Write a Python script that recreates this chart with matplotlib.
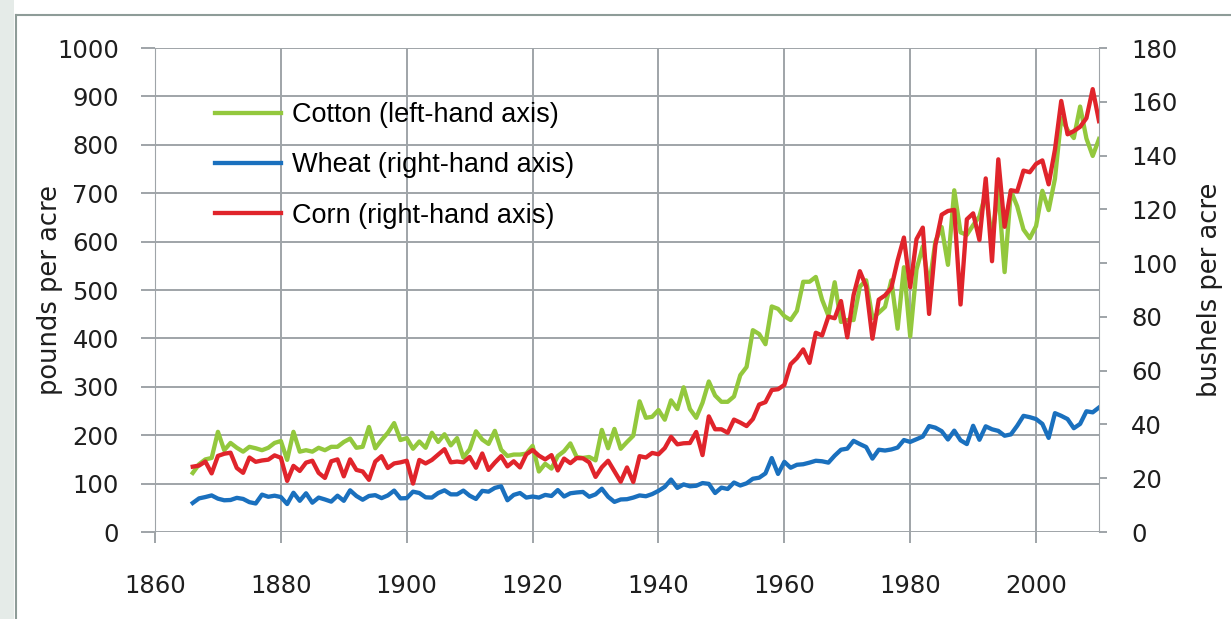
import matplotlib.pyplot as plt
import matplotlib.patches as mpatches
import numpy as np

# yields, one value per year 1866-2010
years = np.arange(1866, 2011)

cotton_lb = [
    122, 140, 150, 153, 207, 169, 184, 174, 166, 176,
    173, 169, 174, 184, 188, 149, 207, 166, 169, 166,
    174, 169, 176, 176, 186, 193, 174, 176, 217, 173,
    190, 205, 225, 190, 194, 172, 187, 174, 205, 186,
    202, 179, 194, 154, 171, 208, 191, 182, 209, 170,
    157, 160, 160, 162, 178, 125, 141, 131, 157, 167,
    183, 155, 153, 155, 148, 211, 173, 213, 172, 186,
    199, 270, 236, 238, 252, 232, 272, 254, 299, 254,
    236, 267, 311, 282, 269, 269, 280, 324, 341, 417,
    409, 388, 466, 461, 446, 438, 457, 517, 517, 527,
    480, 447, 516, 434, 438, 438, 507, 520, 442, 453,
    465, 520, 420, 547, 404, 542, 590, 508, 600, 630,
    552, 706, 619, 614, 634, 652, 700, 606, 708, 537,
    705, 673, 625, 607, 632, 705, 665, 730, 855, 831,
    814, 879, 813, 777, 812,
]

wheat_bu = [
    10.8, 12.5, 13.0, 13.6, 12.4, 11.8, 11.9, 12.7, 12.3, 11.1,
    10.6, 13.9, 13.1, 13.5, 13.0, 10.4, 14.6, 11.6, 14.4, 10.9,
    12.8, 12.1, 11.3, 13.5, 11.6, 15.5, 13.4, 12.0, 13.4, 13.7,
    12.6, 13.6, 15.4, 12.5, 12.6, 15.0, 14.5, 12.9, 12.8, 14.5,
    15.5, 14.0, 14.0, 15.4, 13.5, 12.3, 15.3, 15.0, 16.4, 17.0,
    11.8, 13.8, 14.5, 12.8, 13.2, 12.8, 13.8, 13.4, 15.6, 13.2,
    14.4, 14.7, 14.9, 13.1, 14.0, 16.1, 13.1, 11.2, 12.1, 12.2,
    12.8, 13.6, 13.3, 14.1, 15.3, 16.8, 19.5, 16.4, 17.7, 17.0,
    17.2, 18.2, 17.9, 14.5, 16.5, 16.0, 18.4, 17.3, 18.1, 19.8,
    20.2, 21.8, 27.5, 21.6, 26.1, 23.9, 25.0, 25.2, 25.8, 26.5,
    26.3, 25.8, 28.4, 30.6, 31.0, 33.9, 32.7, 31.6, 27.3, 30.6,
    30.3, 30.7, 31.4, 34.2, 33.5, 34.5, 35.5, 39.4, 38.8, 37.5,
    34.4, 37.7, 34.1, 32.7, 39.5, 34.3, 39.3, 38.2, 37.6, 35.8,
    36.3, 39.5, 43.2, 42.7, 42.0, 40.2, 35.0, 44.2, 43.2, 42.0,
    38.6, 40.2, 44.9, 44.5, 46.3,
]

corn_bu = [
    24.3, 24.7, 26.2, 21.8, 28.3, 29.1, 29.5, 23.8, 22.0, 27.7,
    26.1, 26.6, 26.9, 28.5, 27.6, 19.0, 24.6, 22.7, 25.8, 26.5,
    22.0, 20.1, 26.3, 27.0, 20.7, 27.0, 23.1, 22.5, 19.4, 26.2,
    28.2, 23.8, 25.5, 25.9, 26.5, 18.0, 26.8, 25.5, 26.8, 28.8,
    30.8, 25.9, 26.2, 25.9, 27.9, 23.9, 29.2, 23.1, 25.8, 28.2,
    24.4, 26.3, 24.0, 28.9, 30.5, 28.4, 27.0, 28.6, 22.9, 27.3,
    25.6, 27.5, 27.4, 25.9, 20.5, 24.1, 26.5, 22.6, 18.7, 24.0,
    18.6, 28.2, 27.7, 29.4, 28.9, 31.2, 35.4, 32.6, 33.0, 33.1,
    37.2, 28.6, 43.0, 38.2, 38.2, 36.9, 41.8, 40.7, 39.4, 42.0,
    47.4, 48.3, 52.8, 53.1, 54.7, 62.4, 64.7, 67.9, 62.9, 74.1,
    73.1, 80.1, 79.5, 85.9, 72.4, 88.1, 97.0, 91.3, 71.9, 86.4,
    88.0, 90.8, 101.0, 109.5, 91.0, 108.9, 113.2, 81.1, 106.7, 118.0,
    119.4, 119.8, 84.6, 116.3, 118.5, 108.6, 131.5, 100.7, 138.6, 113.5,
    127.1, 126.7, 134.4, 133.8, 136.9, 138.2, 129.3, 142.2, 160.3, 147.9,
    149.1, 150.7, 153.9, 164.7, 152.8,
]

series_labels = ["Cotton (left-hand axis)", "Wheat (right-hand axis)",
                 "Corn (right-hand axis)"]
x_ticks = [1860, 1880, 1900, 1920, 1940, 1960, 1980, 2000]

GREEN = "#93c83d"
BLUE = "#1a70be"
RED = "#e0242b"
GRID = "#9fa4a8"
TXT = "#1e1e1e"

fig = plt.figure(figsize=(12.31, 6.19), dpi=100)
fig.patch.set_facecolor("white")

# grey strip and frame of the original screenshot
fig.patches.append(mpatches.Rectangle((0, 0), 14 / 1231, 1, transform=fig.transFigure,
                                      facecolor="#e5ebe8", edgecolor="none", zorder=0))
fig.add_artist(plt.Line2D([16 / 1231, 16 / 1231], [0, 1 - 15 / 619], transform=fig.transFigure,
                          color="#8e9c98", lw=1.5))
fig.add_artist(plt.Line2D([16 / 1231, 1], [1 - 15 / 619, 1 - 15 / 619], transform=fig.transFigure,
                          color="#8e9c98", lw=1.5))

ax = fig.add_axes([155 / 1231, 1 - 532 / 619, (1099 - 155) / 1231, (532 - 48) / 619])
ax2 = ax.twinx()

lw = 3.1
l_cot, = ax.plot(years, cotton_lb, color=GREEN, lw=lw, solid_joinstyle="round")
l_wht, = ax2.plot(years, wheat_bu, color=BLUE, lw=lw, solid_joinstyle="round")
l_crn, = ax2.plot(years, corn_bu, color=RED, lw=lw, solid_joinstyle="round")

ax.set_xlim(1860, 2010)
ax.set_ylim(0, 1000)
ax2.set_ylim(0, 180)
ax.set_xticks(x_ticks)
ax.set_yticks(np.arange(0, 1001, 100))
ax2.set_yticks(np.arange(0, 181, 20))

ax.grid(True, color=GRID, lw=1.4)
ax.set_axisbelow(True)
for sp in ["top", "bottom"]:
    ax.spines[sp].set_visible(False)
    ax2.spines[sp].set_visible(False)
ax.spines["left"].set_color(GRID)
ax2.spines["left"].set_visible(False)
ax2.spines["right"].set_color(GRID)
ax.spines["right"].set_visible(False)

ax.tick_params(axis="y", length=10, color=GRID, width=1.4, pad=16,
               labelsize=17.5, labelcolor=TXT)
ax.tick_params(axis="x", length=8, color=GRID, width=1.4, pad=22,
               labelsize=17.5, labelcolor=TXT)
ax2.tick_params(axis="y", length=6, color=GRID, width=1.4, pad=17,
                labelsize=17.5, labelcolor=TXT)

ax.set_ylabel("pounds per acre", fontsize=18.5, color=TXT, labelpad=-4)
ax2.set_ylabel("bushels per acre", fontsize=18.5, color=TXT, labelpad=14)

ax2.legend([l_cot, l_wht, l_crn], series_labels, loc="upper left",
           bbox_to_anchor=(215 / 1231, 1 - 102 / 619), bbox_transform=fig.transFigure,
           frameon=False, borderpad=0, borderaxespad=0, handlelength=2.45,
           handletextpad=0.4, labelspacing=0.9,
           prop={"family": "Liberation Sans", "size": 19.5})

fig.savefig("out.png", dpi=100)
